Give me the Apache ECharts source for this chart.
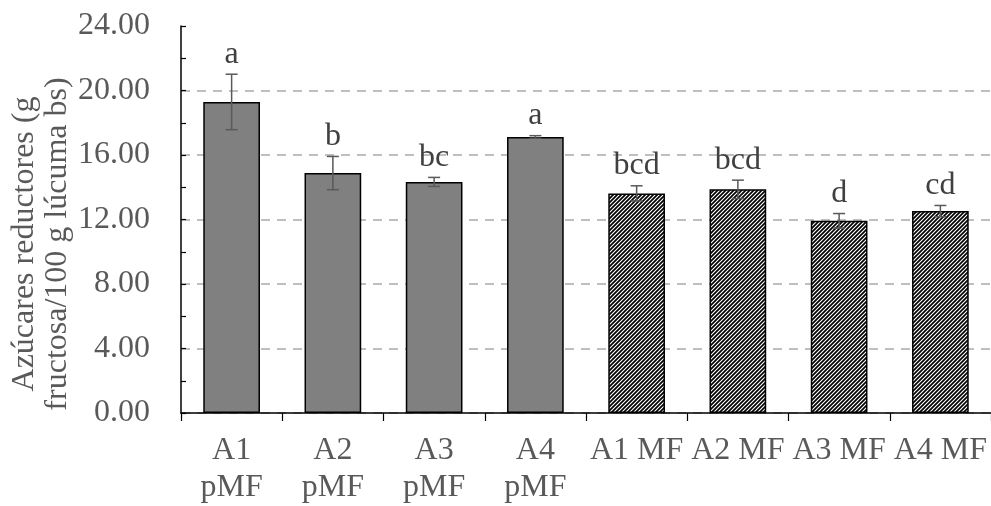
<!DOCTYPE html>
<html>
<head>
<meta charset="utf-8">
<script src="https://cdn.jsdelivr.net/npm/echarts@6/dist/echarts.min.js"></script>
<style>
html,body{margin:0;padding:0;background:#fff;}
#chart{width:991px;height:506px;}
</style>
</head>
<body>
<div id="chart"></div>
<script>
const categories = ['A1 pMF','A2 pMF','A3 pMF','A4 pMF','A1 MF','A2 MF','A3 MF','A4 MF'];
const values = [19.29, 14.88, 14.33, 17.12, 13.62, 13.87, 11.92, 12.52];
const errors = [1.72, 1.03, 0.28, 0.08, 0.47, 0.57, 0.45, 0.35];
const letters = ['a','b','bc','a','bcd','bcd','d','cd'];
const yTicks = ['0.00','4.00','8.00','12.00','16.00','20.00','24.00'];

const pc = document.createElement('canvas');
pc.width = 4; pc.height = 4;
const ctx = pc.getContext('2d');
ctx.fillStyle = '#ffffff'; ctx.fillRect(0,0,4,4);
ctx.strokeStyle = '#000000'; ctx.lineWidth = 1.7;
ctx.beginPath();
ctx.moveTo(-1,5); ctx.lineTo(5,-1);
ctx.moveTo(-2,2); ctx.lineTo(2,-2);
ctx.moveTo(2,6); ctx.lineTo(6,2);
ctx.stroke();

const font = 'Liberation Serif';
const chart = echarts.init(document.getElementById('chart'));
const barData = values.map((v,i) => ({
  value: v,
  itemStyle: categories[i].endsWith(' MF')
    ? {color: {image: pc, repeat: 'repeat'}, borderColor: '#000', borderWidth: 1.5}
    : {color: '#808080', borderColor: '#000', borderWidth: 1.5}
}));
const errData = values.map((v,i) => [i, v, errors[i], letters[i]]);

chart.setOption({
  animation: false,
  grid: {left: 181, right: 0, top: 26, bottom: 93, containLabel: false, outerBoundsMode: 'none'},
  xAxis: {
    type: 'category',
    data: categories,
    axisLine: {lineStyle: {color: '#000', width: 1.5}},
    axisTick: {show: true, length: 8, lineStyle: {color: '#000', width: 1.2}},
    axisLabel: {
      color: '#595959', fontFamily: font, fontSize: 32, lineHeight: 37, margin: 19,
      interval: 0,
      formatter: v => v.replace(' pMF', '\npMF')
    }
  },
  yAxis: [{
    type: 'value', min: 0, max: 24, interval: 4,
    axisLine: {show: true, lineStyle: {color: '#000', width: 1.5}},
    axisTick: {show: false},
    axisLabel: {
      color: '#595959', fontFamily: font, fontSize: 32, margin: 31,
      formatter: (v) => yTicks[Math.round(v/4)]
    },
    splitLine: {show: true, lineStyle: {
      color: ['#bfbfbf','#bfbfbf','#bfbfbf','#bfbfbf','#bfbfbf','#bfbfbf','rgba(0,0,0,0)'],
      type: [9,7], width: 1.8
    }}
  }, {
    type: 'value', min: 0, max: 24, interval: 2, position: 'left', offset: 0,
    axisLine: {show: false},
    axisTick: {show: true, inside: true, length: 5, lineStyle: {color: '#000', width: 1.2}},
    axisLabel: {show: false},
    splitLine: {show: false}
  }],
  graphic: [{
    type: 'text', x: 41, y: 244, rotation: Math.PI/2,
    style: {
      text: 'Azúcares reductores (g\nfructosa/100 g lúcuma bs)',
      align: 'center', verticalAlign: 'middle',
      fontFamily: font, fontSize: 32, lineHeight: 33, fill: '#595959'
    }
  }],
  series: [
    {
      type: 'bar', data: barData, barWidth: '56%', yAxisIndex: 0
    },
    {
      type: 'custom', data: errData, clip: false, z: 5, yAxisIndex: 0,
      encode: {x: 0, y: 1},
      renderItem: (params, api) => {
        const i = api.value(0), v = api.value(1), e = api.value(2);
        const top = api.coord([i, v + e]);
        const bot = api.coord([i, v - e]);
        const hw = 6;
        const st = {stroke: '#595959', lineWidth: 1.5};
        return {
          type: 'group',
          children: [
            {type: 'line', shape: {x1: top[0], y1: top[1], x2: bot[0], y2: bot[1]}, style: st},
            {type: 'line', shape: {x1: top[0]-hw, y1: top[1], x2: top[0]+hw, y2: top[1]}, style: st},
            {type: 'line', shape: {x1: bot[0]-hw, y1: bot[1], x2: bot[0]+hw, y2: bot[1]}, style: st},
            {type: 'text', style: {
              text: letters[params.dataIndex], x: top[0], y: top[1] - 4,
              align: 'center', verticalAlign: 'bottom',
              fontFamily: font, fontSize: 32, fill: '#404040'
            }}
          ]
        };
      }
    }
  ]
});
</script>
</body>
</html>
